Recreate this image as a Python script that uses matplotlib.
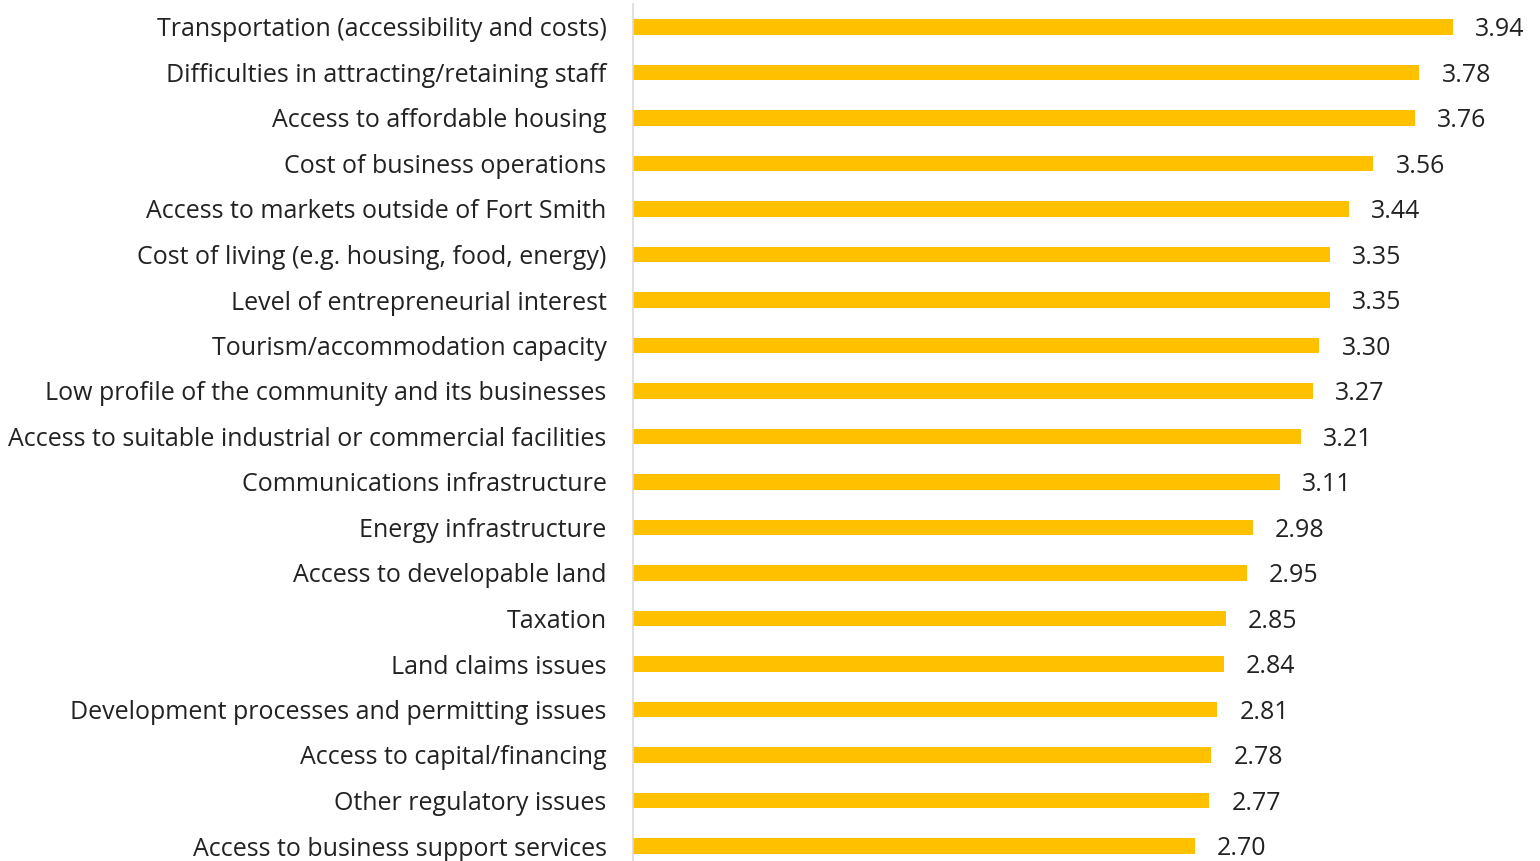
import matplotlib.pyplot as plt

plt.rcParams['font.family'] = ['Open Sans', 'DejaVu Sans']

categories = [
    "Transportation (accessibility and costs)",
    "Difficulties in attracting/retaining staff",
    "Access to affordable housing",
    "Cost of business operations",
    "Access to markets outside of Fort Smith",
    "Cost of living (e.g. housing, food, energy)",
    "Level of entrepreneurial interest",
    "Tourism/accommodation capacity",
    "Low profile of the community and its businesses",
    "Access to suitable industrial or commercial facilities",
    "Communications infrastructure",
    "Energy infrastructure",
    "Access to developable land",
    "Taxation",
    "Land claims issues",
    "Development processes and permitting issues",
    "Access to capital/financing",
    "Other regulatory issues",
    "Access to business support services",
]
scores = [3.94, 3.78, 3.76, 3.56, 3.44, 3.35, 3.35, 3.30, 3.27, 3.21,
          3.11, 2.98, 2.95, 2.85, 2.84, 2.81, 2.78, 2.77, 2.70]

fig = plt.figure(figsize=(15.4, 8.61), dpi=100)
ax = fig.add_axes([633 / 1540, 0.0, (1520 - 633) / 1540, (861 - 4) / 861])

pos = range(len(categories))
ax.barh(pos, scores, height=0.35, color='#FFC000')

for y, v in zip(pos, scores):
    ax.annotate(f"{v:.2f}", (v, y), xytext=(16, -2), textcoords='offset points',
                ha='left', va='center', fontsize=18, color='#222222')

ax.set_xlim(0, (1520 - 633) / 208)
ax.set_ylim(18 + 15 / 45.5, -23 / 45.5)
ax.set_yticks(list(pos))
ax.set_yticklabels(categories, fontsize=18, color='#222222')
ax.tick_params(axis='y', length=0, pad=19)
ax.set_xticks([])

for s in ['top', 'right', 'bottom']:
    ax.spines[s].set_visible(False)
ax.spines['left'].set_color('#d9d9d9')
ax.spines['left'].set_linewidth(1.2)

fig.savefig('out.png', dpi=100)
